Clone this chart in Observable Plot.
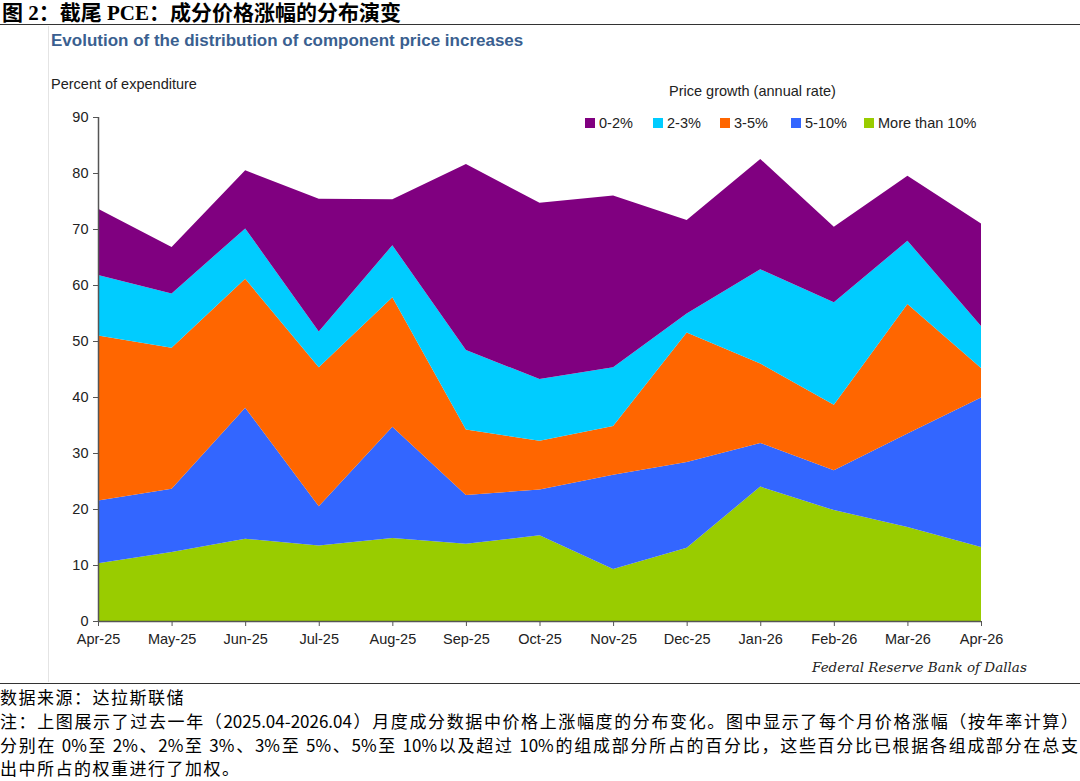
<!DOCTYPE html>
<html>
<head>
<meta charset="utf-8">
<script src="https://cdn.jsdelivr.net/npm/d3@7"></script>
<script src="https://cdn.jsdelivr.net/npm/@observablehq/plot@0.6"></script>
<style>
  html, body { margin: 0; padding: 0; background: #fff; }
  #page { position: relative; width: 1080px; height: 781px; overflow: hidden; font-family: "Liberation Sans", Arial, sans-serif; }
  .abs { position: absolute; white-space: nowrap; }
  #cn-title { left: 2px; top: 2px; line-height: 22px; font-family: "Liberation Serif", "Noto Sans CJK SC", serif; font-weight: bold; font-size: 21px; color: #000; }
  #rule-top { left: 0; top: 24px; width: 1080px; height: 0; border-top: 1.5px solid #333; }
  #rule-left { left: 48px; top: 26px; width: 0; height: 656px; border-left: 1px solid #e4e4e4; }
  #rule-bot { left: 0; top: 683px; width: 1080px; height: 0; border-top: 1.5px solid #333; }
  #subtitle { left: 51px; top: 31px; font-size: 17px; font-weight: bold; color: #3a5f90; }
  #ylabel { left: 51px; top: 76px; font-size: 14.5px; color: #222; }
  #legtitle { left: 669px; top: 83px; font-size: 14.5px; color: #222; }
  .leg { top: 115px; font-size: 14.5px; color: #222; }
  .sw { display: inline-block; width: 10px; height: 10px; margin-right: 4px; vertical-align: 0px; }
  #credit { left: 812px; top: 659px; font-family: "DejaVu Serif", serif; font-style: italic; font-size: 13.5px; color: #222; }
  .note { left: 0px; font-family: "Noto Sans CJK SC", sans-serif; font-size: 17px; line-height: 22px; letter-spacing: 1.5px; color: #000; }
  .just { width: 1078px; text-align: justify; text-align-last: justify; letter-spacing: 0; white-space: normal; }
  #chart { position: absolute; left: 0; top: 100px; }
</style>
</head>
<body>
<div id="page">
  <div id="cn-title" class="abs">图 2：截尾 PCE：成分价格涨幅的分布演变</div>
  <div id="rule-top" class="abs"></div>
  <div id="rule-left" class="abs"></div>
  <div id="subtitle" class="abs">Evolution of the distribution of component price increases</div>
  <div id="ylabel" class="abs">Percent of expenditure</div>
  <div id="legtitle" class="abs">Price growth (annual rate)</div>
  <div id="legend"></div>
  <div id="chart"></div>
  <div id="credit" class="abs">Federal Reserve Bank of Dallas</div>
  <div id="rule-bot" class="abs"></div>
  <div class="abs note" style="top:686px">数据来源：达拉斯联储</div>
  <div class="abs note just" style="top:710px">注：上图展示了过去一年（2025.04-2026.04）月度成分数据中价格上涨幅度的分布变化。图中显示了每个月价格涨幅（按年率计算）</div>
  <div class="abs note just" style="top:734px">分别在 0%至 2%、2%至 3%、3%至 5%、5%至 10%以及超过 10%的组成部分所占的百分比，这些百分比已根据各组成部分在总支</div>
  <div class="abs note" style="top:757px">出中所占的权重进行了加权。</div>
</div>
<script>
// ---- data ----
const months = ["Apr-25","May-25","Jun-25","Jul-25","Aug-25","Sep-25","Oct-25","Nov-25","Dec-25","Jan-26","Feb-26","Mar-26","Apr-26"];
const seriesNames = ["0-2%","2-3%","3-5%","5-10%","More than 10%"];
const seriesColors = ["#800080","#00ccff","#ff6600","#3366ff","#99cc00"];
const moreThan10 = [10.3, 12.3, 14.7, 13.5, 14.8, 13.8, 15.3, 9.3, 13.1, 24.0, 19.8, 16.8, 13.2];
const pct5to10   = [11.2, 11.3, 23.4, 7.0, 19.9, 8.7, 8.2, 16.8, 15.3, 7.8, 7.1, 16.7, 26.7];
const pct3to5    = [29.5, 25.2, 23.0, 24.8, 23.1, 11.7, 8.7, 8.7, 23.1, 14.2, 11.7, 23.1, 5.3];
const pct2to3    = [10.8, 9.7, 9.0, 6.4, 9.3, 14.2, 11.0, 10.5, 3.4, 16.8, 18.3, 11.3, 7.5];
const pct0to2    = [11.8, 8.3, 10.4, 23.7, 8.2, 33.2, 31.5, 30.7, 16.7, 19.7, 13.5, 11.6, 18.3];
const yTicks = [0,10,20,30,40,50,60,70,80,90];

// stacking order bottom -> top
const stackOrder = [
  ["More than 10%", moreThan10],
  ["5-10%", pct5to10],
  ["3-5%", pct3to5],
  ["2-3%", pct2to3],
  ["0-2%", pct0to2]
];
const rows = [];
stackOrder.forEach(([name, vals]) => vals.forEach((v, i) => rows.push({month: months[i], series: name, value: v})));

const chart = Plot.plot({
  width: 1080,
  height: 551,
  marginLeft: 98,
  marginRight: 99,
  marginTop: 17,
  marginBottom: 30,
  style: {fontFamily: "'Liberation Sans', Arial, sans-serif", fontSize: "14.5px", color: "#222", background: "transparent"},
  x: {type: "point", domain: months, padding: 0, round: false, label: null},
  y: {domain: [0, 90], label: null},
  color: {domain: seriesNames, range: seriesColors},
  marks: [
    Plot.areaY(rows, Plot.stackY({order: stackOrder.map(d => d[0])}, {x: "month", y: "value", z: "series", fill: "series", curve: "linear"})),
    Plot.ruleY([0], {stroke: "#555", strokeWidth: 1.5}),
    Plot.ruleX([months[0]], {y1: 0, y2: 90, stroke: "#555", strokeWidth: 1.5}),
    Plot.axisX({ticks: months, tickSize: 5, tickPadding: 7, stroke: "#555", fill: "#222", fontSize: 14.5}),
    Plot.axisY({ticks: yTicks, tickSize: 5, tickPadding: 5, stroke: "#555", fill: "#222", fontSize: 14.5})
  ]
});
document.getElementById("chart").appendChild(chart);

// legend
const legPos = [585, 653, 720, 791, 864];
const legend = document.getElementById("legend");
seriesNames.forEach((name, i) => {
  const d = document.createElement("div");
  d.className = "abs leg";
  d.style.left = legPos[i] + "px";
  d.innerHTML = `<span class="sw" style="background:${seriesColors[i]}"></span>${name}`;
  legend.appendChild(d);
});
</script>
</body>
</html>
